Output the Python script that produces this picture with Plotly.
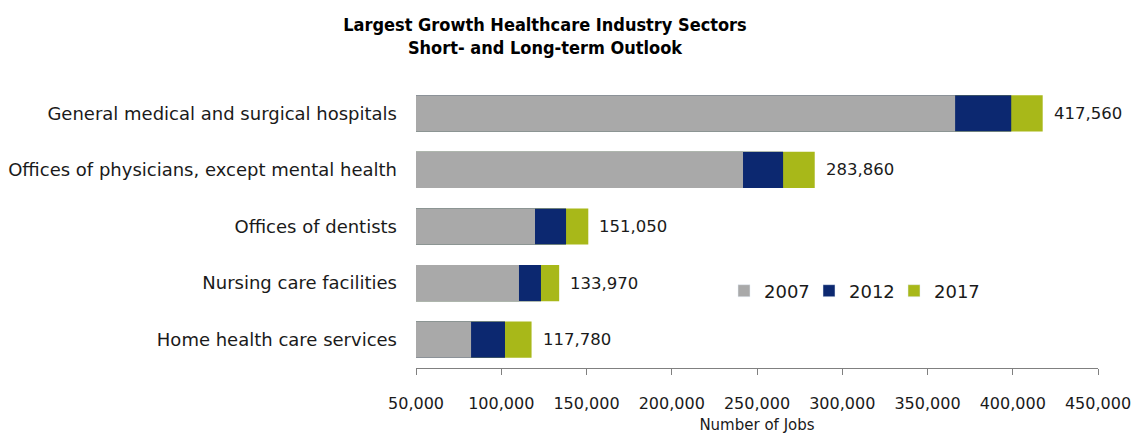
import plotly.graph_objects as go

categories = [
    "General medical and surgical hospitals",
    "Offices of physicians, except mental health",
    "Offices of dentists",
    "Nursing care facilities",
    "Home health care services",
]
jobs_2007 = [366200, 241800, 119800, 110400, 82300]
jobs_2012 = [399100, 265300, 138000, 123300, 102200]
jobs_2017 = [417560, 283860, 151050, 133970, 117780]
tick_vals = [50000, 100000, 150000, 200000, 250000, 300000, 350000, 400000, 450000]

FONT = "DejaVu Sans, sans-serif"
colors = {"2007": "#a9a9a9", "2012": "#0c2870", "2017": "#a8b819"}

fig = go.Figure()
fig.add_trace(go.Bar(
    y=categories, x=jobs_2017, orientation="h", name="2017",
    marker=dict(color=colors["2017"], line=dict(width=0)),
    showlegend=False,
))
fig.add_trace(go.Bar(
    y=categories, x=jobs_2012, orientation="h", name="2012",
    marker=dict(color=colors["2012"], line=dict(width=0)),
    showlegend=False,
))
fig.add_trace(go.Bar(
    y=categories, x=jobs_2007, orientation="h", name="2007",
    marker=dict(color=colors["2007"], line=dict(width=0)),
    showlegend=False,
))
for yr in ["2007", "2012", "2017"]:
    fig.add_trace(go.Bar(
        y=[None], x=[None], orientation="h", name=yr,
        marker=dict(color=colors[yr]), showlegend=True,
    ))

for cat, v in zip(categories, jobs_2017):
    fig.add_annotation(
        x=v, y=cat, xref="x", yref="y", text=f"{v:,}", showarrow=False,
        xanchor="left", yanchor="middle", xshift=9,
        font=dict(size=16.5, family=FONT, color="#1a1a1a"),
    )

fig.update_layout(
    width=1135, height=434,
    margin=dict(l=416, r=37, t=85, b=66, autoexpand=False),
    barmode="overlay", bargap=0.36,
    plot_bgcolor="white", paper_bgcolor="white",
    font=dict(family=FONT, color="#1a1a1a", size=16),
    title=dict(
        text="<b>Largest Growth Healthcare Industry Sectors<br>Short- and Long-term Outlook</b>",
        x=545 / 1135, xanchor="center", xref="container",
        y=1 - 31 / 434, yanchor="middle", yref="container",
        font=dict(size=18, family="DejaVu Sans Condensed, Liberation Sans Narrow, sans-serif", color="#000"),
    ),
    legend=dict(
        orientation="h", x=(724 - 416) / 682, xanchor="left",
        y=(368 - 291) / 283, yanchor="middle",
        font=dict(size=18, family=FONT), bgcolor="rgba(0,0,0,0)",
        traceorder="normal", entrywidth=40, entrywidthmode="pixels",
    ),
    xaxis=dict(
        range=[50000, 450000], tickvals=tick_vals, tickformat=",d",
        showgrid=False, zeroline=False, automargin=False,
        showline=True, linecolor="#808080", linewidth=1,
        ticks="outside", ticklen=6, tickcolor="#808080",
        ticklabelstandoff=15,
        tickfont=dict(size=16, family=FONT),
        title=dict(text="Number of Jobs", font=dict(size=15, family=FONT), standoff=7),
    ),
    yaxis=dict(
        autorange="reversed", showgrid=False, zeroline=False, showline=False,
        automargin=False,
        ticks="", ticklabelstandoff=18, tickfont=dict(size=18, family=FONT),
    ),
)

fig.write_html("out.html")
